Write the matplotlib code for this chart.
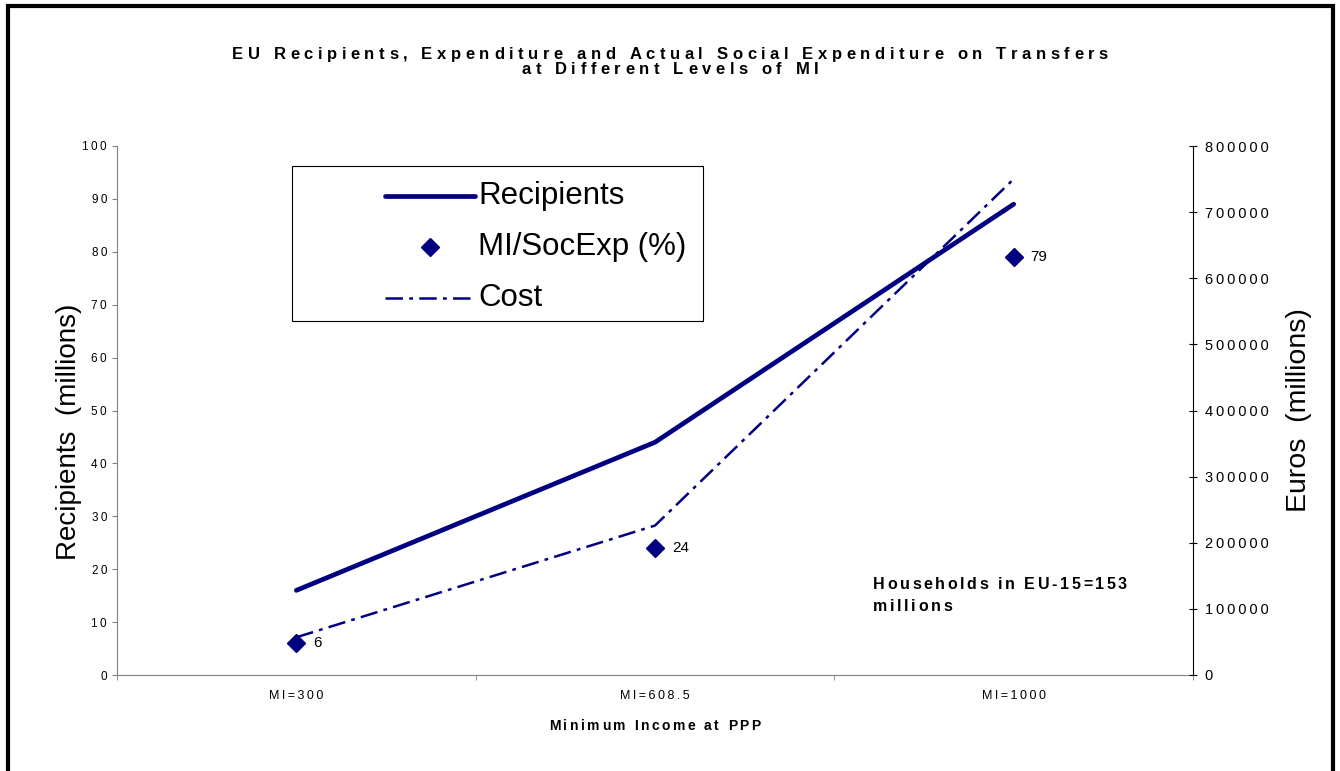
import matplotlib
matplotlib.use("Agg")
import matplotlib.pyplot as plt
from matplotlib.font_manager import FontProperties
from matplotlib.patches import Rectangle
from matplotlib.lines import Line2D
from matplotlib.ticker import FuncFormatter
import numpy as np

# ---- data -------------------------------------------------------------
categories = ["MI=300", "MI=608.5", "MI=1000"]
recipients = [16, 44, 89]            # millions of recipients (left axis)
mi_socexp = [6, 24, 79]              # MI cost as % of social expenditure
cost = [57000, 226000, 750000]       # euros, millions (right axis)
left_ticks = list(range(0, 101, 10))
right_ticks = list(range(0, 800001, 100000))

# ---- figure setup -----------------------------------------------------
W, H, DPI = 1340, 771, 100
NAVY = "#000080"
GREY = "#808080"
FONT = "Liberation Sans"
FAMILY = [FONT, "DejaVu Sans"]
THIN = "\u2009"

fig = plt.figure(figsize=(W / DPI, H / DPI), dpi=DPI)
fig.patch.set_facecolor("white")


def px_box(l, t, r, b):
    return [l / W, 1 - b / H, (r - l) / W, (b - t) / H]


def fx(px):
    return px / W


def fy(py):
    return 1 - py / H


def spaced(s):
    """Letter-spaced version of a label, using thin spaces between glyphs."""
    return THIN.join(s)


renderer = fig.canvas.get_renderer()


def char_widths(s, fp):
    def width(t):
        return renderer.get_text_width_height_descent(t, fp, ismath=False)[0]
    base = width("||")
    return [width("|" + c + "|") - base for c in s]


def tracked_text(s, x, baseline, fp, tracking=None, target=None, ha="center"):
    """Draw text with extra letter spacing; returns the tracking used."""
    widths = char_widths(s, fp)
    if tracking is None:
        tracking = (target - sum(widths)) / (len(s) - 1)
    total = sum(widths) + tracking * (len(s) - 1)
    pos = x - total / 2 if ha == "center" else x
    for c, w in zip(s, widths):
        fig.text(fx(pos), fy(baseline), c, fontproperties=fp,
                 ha="left", va="baseline")
        pos += w + tracking
    return tracking


# ---- axes -------------------------------------------------------------
ax = fig.add_axes(px_box(117, 146, 1193, 675))
ax2 = ax.twinx()

x = np.arange(len(categories))
ax.plot(x, recipients, color=NAVY, lw=3.4, solid_capstyle="round", zorder=3)
ax.plot(x, mi_socexp, ls="none", marker="D", ms=9.5, color=NAVY, zorder=4)
for xi, v in zip(x, mi_socexp):
    ax.annotate(str(v), (xi, v), xytext=(17, 0), textcoords="offset pixels",
                ha="left", va="center", fontsize=11, family=FONT)

ax2.plot(x, cost, color=NAVY, lw=1.8, ls=(0, (7, 2.5, 1.5, 2.5)))

ax.set_xlim(-0.5, len(categories) - 0.5)
ax.set_ylim(0, 100)
ax2.set_ylim(0, 800000)

ax.set_xticks(x, [spaced(c) for c in categories], family=FAMILY, fontsize=9)
ax.set_xticks(np.arange(len(categories) + 1) - 0.5, minor=True)
ax.tick_params(axis="x", which="major", length=0, pad=11)
ax.tick_params(axis="x", which="minor", length=3.6, direction="out", color=GREY)

ax.set_yticks(left_ticks)
ax.yaxis.set_major_formatter(FuncFormatter(lambda v, p: spaced(str(int(v)))))
ax.tick_params(axis="y", length=3.6, color=GREY, pad=3.6, labelsize=8.5)
for lab in ax.get_yticklabels():
    lab.set_family(FAMILY)
ax2.set_yticks(right_ticks)
ax2.yaxis.set_major_formatter(FuncFormatter(lambda v, p: spaced(str(int(v)))))
ax2.tick_params(axis="y", direction="inout", length=5.8, color="black",
                pad=5.5, labelsize=10.5)
for lab in ax2.get_yticklabels():
    lab.set_family(FAMILY)

for s in ("top", "right"):
    ax.spines[s].set_visible(False)
for s in ("top", "left", "bottom"):
    ax2.spines[s].set_visible(False)
ax.spines["left"].set_color(GREY)
ax.spines["bottom"].set_color(GREY)
ax2.spines["right"].set_color("black")

ax.set_ylabel("Recipients  (millions)", family=FONT, fontsize=20, va="center")
ax.yaxis.set_label_coords((69 - 117) / 1076, 0.46)
ax2.set_ylabel("Euros  (millions)", family=FONT, fontsize=20.5, va="center")
ax2.yaxis.set_label_coords((1299 - 117) / 1076, 0.50)

# ---- legend box -------------------------------------------------------
fig.add_artist(Rectangle((fx(292), fy(321)), fx(703) - fx(292), fy(166) - fy(321),
                         transform=fig.transFigure, facecolor="white",
                         edgecolor="black", lw=0.8))
leg_rows = [196, 247, 298]
hx0, hx1, tx = 385, 475, 478
fig.add_artist(Line2D([fx(hx0), fx(hx1)], [fy(leg_rows[0])] * 2, color=NAVY, lw=3.4,
                      solid_capstyle="round", transform=fig.transFigure))
fig.add_artist(Line2D([fx((hx0 + hx1) / 2)], [fy(leg_rows[1])], ls="none", marker="D",
                      ms=9.5, color=NAVY, transform=fig.transFigure))
fig.add_artist(Line2D([fx(hx0), fx(hx1)], [fy(leg_rows[2])] * 2, color=NAVY, lw=1.8,
                      ls=(0, (7, 2.5, 1.5, 2.5)), transform=fig.transFigure))
for row, label in zip(leg_rows, ["Recipients", "MI/SocExp (%)", "Cost"]):
    fig.text(fx(tx), fy(row), label, family=FONT, fontsize=22.5,
             ha="left", va="center")

# ---- titles and notes -------------------------------------------------
title_fp = FontProperties(family=FONT, weight="bold", size=12)
tr = tracked_text("EU Recipients, Expenditure and Actual Social Expenditure on Transfers",
                  670, 59, title_fp, target=876)
tracked_text("at Different Levels of MI", 670, 74, title_fp, tracking=tr)

xl_fp = FontProperties(family=FONT, weight="bold", size=10)
tracked_text("Minimum Income at PPP", 655, 730, xl_fp, target=211)

note_fp = FontProperties(family=FONT, weight="bold", size=11.5)
tr2 = tracked_text("Households in EU-15=153", 873, 589, note_fp, target=254, ha="left")
tracked_text("millions", 873, 611, note_fp, tracking=tr2, ha="left")

# ---- outer frame ------------------------------------------------------
fig.add_artist(Rectangle((fx(8), -0.05), fx(1332.5) - fx(8), fy(6) + 0.05,
                         transform=fig.transFigure, fill=False,
                         edgecolor="black", lw=3, clip_on=False))

fig.savefig("out.png", dpi=DPI, facecolor="white")
